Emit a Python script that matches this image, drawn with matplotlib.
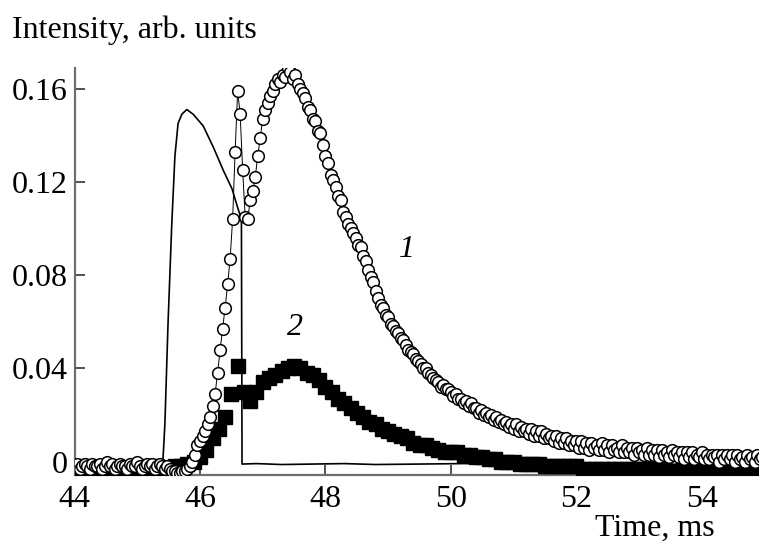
"""
Time profiles of intensity: curves 1 (open circles), 2 (filled squares) and the pulse (thin line)
"""

import matplotlib.pyplot as plt
import numpy as np

plt.rcParams["font.family"] = ["Liberation Serif", "DejaVu Serif"]

# Curve 1 (open circles), one reading every 0.04 ms starting at 44 ms
t1_start, t1_step = 44.0, 0.04
intensity_1 = [
    -0.002, -0.001, -0.003, -0.002, -0.001, -0.002, -0.003, -0.001, -0.002, -0.002,
    -0.001, -0.003, -0.002, 0.000, -0.002, -0.001, -0.003, -0.002, -0.001, -0.002,
    -0.002, -0.003, -0.001, -0.002, -0.002, 0.000, -0.002, -0.003, -0.002, -0.001,
    -0.002, -0.001, -0.003, -0.002, -0.001, -0.002, -0.003, -0.002, -0.003, -0.004,
    -0.004, -0.005, -0.005, -0.004, -0.004, -0.003, -0.002, 0.000, 0.003, 0.007,
    0.009, 0.011, 0.013, 0.016, 0.019, 0.024, 0.029, 0.038, 0.048, 0.057,
    0.066, 0.076, 0.087, 0.104, 0.133, 0.159, 0.149, 0.125, 0.105, 0.104,
    0.112, 0.116, 0.122, 0.131, 0.139, 0.147, 0.151, 0.154, 0.157, 0.159,
    0.162, 0.164, 0.163, 0.166, 0.165, 0.169, 0.167, 0.164, 0.166, 0.162,
    0.160, 0.158, 0.156, 0.152, 0.151, 0.147, 0.146, 0.142, 0.141, 0.136,
    0.131, 0.128, 0.123, 0.121, 0.118, 0.114, 0.112, 0.107, 0.105, 0.102,
    0.100, 0.098, 0.096, 0.093, 0.092, 0.088, 0.086, 0.082, 0.079, 0.077,
    0.073, 0.070, 0.067, 0.066, 0.063, 0.062, 0.059, 0.058, 0.056, 0.055,
    0.053, 0.052, 0.050, 0.048, 0.047, 0.046, 0.044, 0.043, 0.042, 0.040,
    0.040, 0.038, 0.037, 0.036, 0.035, 0.034, 0.032, 0.033, 0.031, 0.031,
    0.030, 0.028, 0.029, 0.027, 0.027, 0.025, 0.026, 0.024, 0.025, 0.023,
    0.023, 0.021, 0.022, 0.020, 0.021, 0.019, 0.020, 0.018, 0.019, 0.017,
    0.018, 0.016, 0.017, 0.015, 0.016, 0.014, 0.016, 0.013, 0.015, 0.013,
    0.014, 0.012, 0.014, 0.011, 0.013, 0.011, 0.013, 0.010, 0.012, 0.010,
    0.011, 0.009, 0.011, 0.008, 0.010, 0.008, 0.010, 0.007, 0.009, 0.007,
    0.009, 0.006, 0.009, 0.006, 0.008, 0.005, 0.008, 0.006, 0.007, 0.005,
    0.008, 0.005, 0.007, 0.004, 0.007, 0.005, 0.006, 0.004, 0.007, 0.004,
    0.006, 0.004, 0.006, 0.003, 0.006, 0.004, 0.005, 0.003, 0.006, 0.003,
    0.005, 0.003, 0.005, 0.002, 0.005, 0.003, 0.004, 0.002, 0.005, 0.003,
    0.004, 0.002, 0.004, 0.001, 0.004, 0.002, 0.004, 0.001, 0.003, 0.002,
    0.004, 0.001, 0.003, 0.001, 0.003, 0.002, 0.003, 0.000, 0.003, 0.001,
    0.003, 0.001, 0.003, 0.000, 0.003, 0.001, 0.002, 0.000, 0.003, 0.001,
    0.002, 0.000, 0.003, 0.001, 0.002,
]

# Curve 2 (filled squares), one reading every 0.1 ms starting at 44 ms
t2_start, t2_step = 44.0, 0.1
intensity_2 = [
    -0.003, -0.002, -0.003, -0.004, -0.003, -0.002, -0.003, -0.003, -0.004, -0.003,
    -0.002, -0.003, -0.003, -0.002, -0.003, -0.003, -0.002, -0.002, -0.001, 0.000,
    0.002, 0.005, 0.010, 0.014, 0.019, 0.029, 0.041, 0.030, 0.026, 0.030,
    0.034, 0.036, 0.037, 0.039, 0.040, 0.041, 0.040, 0.038, 0.037, 0.035,
    0.032, 0.030, 0.027, 0.025, 0.023, 0.021, 0.019, 0.017, 0.016, 0.014,
    0.013, 0.012, 0.011, 0.010, 0.008, 0.007, 0.007, 0.006, 0.005, 0.004,
    0.004, 0.004, 0.003, 0.003, 0.002, 0.002, 0.001, 0.001, 0.000, 0.000,
    0.000, -0.001, -0.001, -0.001, -0.001, -0.002, -0.002, -0.002, -0.002, -0.002,
    -0.002, -0.003, -0.003, -0.003, -0.003, -0.003, -0.003, -0.003, -0.003, -0.003,
    -0.003, -0.003, -0.003, -0.004, -0.003, -0.004, -0.004, -0.003, -0.004, -0.004,
    -0.004, -0.004, -0.003, -0.004, -0.004, -0.004, -0.004, -0.004, -0.004, -0.004,
]

# Pulse shape (thin solid line)
pulse_time = [
    44.0, 44.6, 45.2, 45.38, 45.41, 45.44, 45.49, 45.55, 45.60, 45.65, 45.71,
    45.79, 45.89, 46.05, 46.21, 46.37, 46.51, 46.60, 46.66, 46.67, 46.9, 47.3,
    47.8, 48.3, 48.8, 49.5, 50.2, 51.0, 51.8, 52.6, 53.4, 54.2, 55.0,
]
pulse_intensity = [
    -0.001, -0.001, -0.001, -0.001, 0.001, 0.016, 0.059, 0.102, 0.131, 0.145, 0.149,
    0.151, 0.149, 0.144, 0.135, 0.125, 0.117, 0.109, 0.104, -0.001, -0.0008, -0.0012,
    -0.001, -0.0008, -0.0012, -0.001, -0.0008, -0.0012, -0.001, -0.001, -0.0012, -0.001, -0.001,
]

x_ticks = [44, 46, 48, 50, 52, 54]
y_ticks = [0, 0.04, 0.08, 0.12, 0.16]
y_tick_labels = ["0", "0.04", "0.08", "0.12", "0.16"]

time_1 = t1_start + t1_step * np.arange(len(intensity_1))
time_2 = t2_start + t2_step * np.arange(len(intensity_2))

fig = plt.figure(figsize=(7.59, 5.45), dpi=100)
ax = fig.add_axes([0.0982, 0.1284, 0.9018, 0.7468])

ax.plot(pulse_time, pulse_intensity, color="black", lw=1.2, zorder=2)
ax.plot(time_2, intensity_2, "s", color="black", ms=9.5, zorder=3)
ax.plot(
    time_1, intensity_1, "o-", color="black", lw=0.7,
    ms=8.4, mfc="white", mec="black", mew=1.1, zorder=4,
)

ax.text(49.30, 0.0912, "1", fontsize=23, style="italic", ha="center", va="center")
ax.text(47.51, 0.0577, "2", fontsize=23, style="italic", ha="center", va="center")

# Format the panel
ax.set_xlim(44, 54.91)
ax.set_ylim(-0.0057, 0.1688)
ax.set_xticks(x_ticks)
ax.set_yticks(y_ticks)
ax.set_yticklabels(y_tick_labels)
for side in ["top", "right"]:
    ax.spines[side].set_visible(False)
for side in ["left", "bottom"]:
    ax.spines[side].set_color("#6e6e6e")
    ax.spines[side].set_linewidth(1.6)
ax.tick_params(direction="in", length=7.5, width=1.2, color="#333333", labelsize=23)
ax.tick_params(axis="y", pad=5)
ax.tick_params(axis="x", pad=7)

fig.text(12 / 759, 0.930, "Intensity, arb. units", fontsize=23, ha="left", va="baseline")
fig.text(0.941, 0.016, "Time, ms", fontsize=23, ha="right", va="baseline")

fig.savefig("out.png", dpi=100)
